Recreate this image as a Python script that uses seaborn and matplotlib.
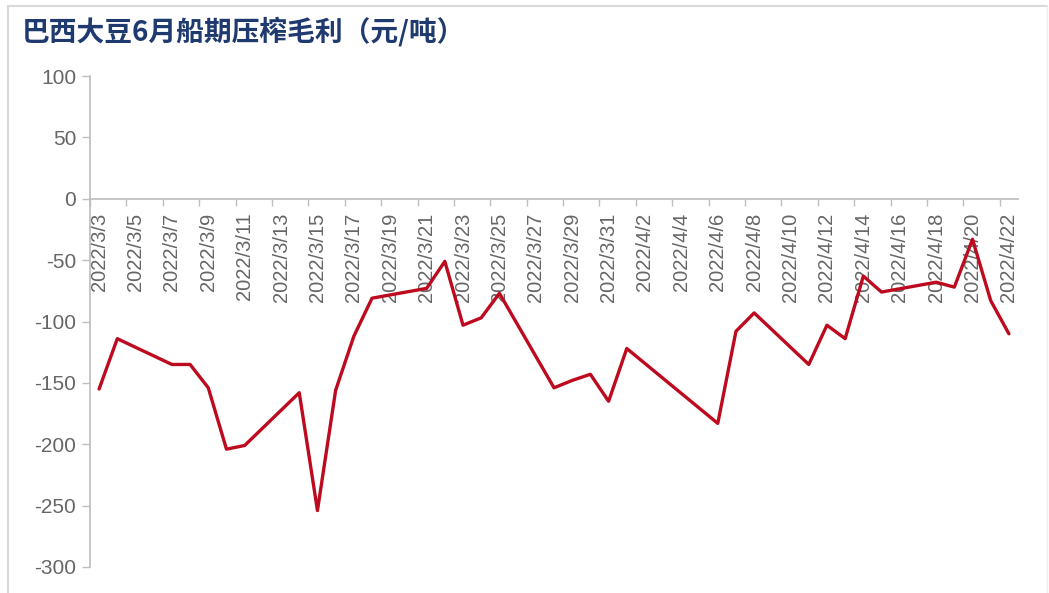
import matplotlib
matplotlib.use("Agg")
import matplotlib.pyplot as plt
import matplotlib.dates as mdates
from matplotlib.lines import Line2D
from matplotlib.ticker import FixedLocator, FixedFormatter, NullFormatter
import numpy as np
import pandas as pd
import seaborn as sns

# Trading days and crush margin (yuan/ton)
dates = [
    "2022-03-03", "2022-03-04", "2022-03-07", "2022-03-08", "2022-03-09",
    "2022-03-10", "2022-03-11", "2022-03-14", "2022-03-15", "2022-03-16",
    "2022-03-17", "2022-03-18", "2022-03-21", "2022-03-22", "2022-03-23",
    "2022-03-24", "2022-03-25", "2022-03-28", "2022-03-29", "2022-03-30",
    "2022-03-31", "2022-04-01", "2022-04-06", "2022-04-07", "2022-04-08",
    "2022-04-11", "2022-04-12", "2022-04-13", "2022-04-14", "2022-04-15",
    "2022-04-18", "2022-04-19", "2022-04-20", "2022-04-21", "2022-04-22",
]
margin = [
    -155, -114, -135, -135, -154,
    -204, -201, -158, -254, -156,
    -112, -81, -73, -51, -103,
    -97, -77, -154, -148, -143,
    -165, -122, -183, -108, -93,
    -135, -103, -114, -63, -76,
    -68, -72, -33, -83, -110,
]
y_ticks = [100, 50, 0, -50, -100, -150, -200, -250, -300]
title = "巴西大豆6月船期压榨毛利（元/吨）"

sns.set_theme(style="white")
plt.rcParams["font.family"] = ["Liberation Sans", "Noto Sans CJK SC", "DejaVu Sans"]

df = pd.DataFrame({"date": pd.to_datetime(dates), "margin": margin})

fig = plt.figure(figsize=(10.49, 5.93), dpi=100)
ax = fig.add_axes([90 / 1049, 1 - 567 / 593, (1018 - 90) / 1049, (567 - 76) / 593])

sns.lineplot(data=df, x="date", y="margin", ax=ax, color="#BE0A1E",
             linewidth=2.4)

# Daily axis: one slot per calendar day, labels every second day
start = pd.Timestamp("2022-03-03")
end = pd.Timestamp("2022-04-22")
x0 = mdates.date2num(start)
x1 = mdates.date2num(end)
ax.set_xlim(x0 - 0.5, x1 + 0.5)
ax.set_ylim(-300, 100)

label_days = pd.date_range(start, end, freq="2D")
ax.xaxis.set_major_locator(FixedLocator(np.arange(x0 - 0.5, x1 + 0.6, 2.0)))
ax.xaxis.set_major_formatter(NullFormatter())
ax.xaxis.set_minor_locator(FixedLocator(mdates.date2num(label_days)))
ax.xaxis.set_minor_formatter(
    FixedFormatter([f"{d.year}/{d.month}/{d.day}" for d in label_days]))
ax.tick_params(axis="x", which="major", length=5, width=1, color="#BFBFBF",
               direction="out", bottom=True)
ax.tick_params(axis="x", which="minor", length=0, pad=10, labelsize=14.5,
               labelcolor="#666666", bottom=True, labelrotation=90)

ax.set_yticks(y_ticks)
ax.set_yticklabels([str(v) for v in y_ticks])
ax.tick_params(axis="y", length=6, width=1, color="#BFBFBF", direction="out",
               left=True, labelsize=15, labelcolor="#666666", pad=4)

for side in ("top", "right"):
    ax.spines[side].set_visible(False)
ax.spines["left"].set_color("#BFBFBF")
ax.spines["bottom"].set_color("#BFBFBF")
ax.spines["bottom"].set_position(("data", 0))
ax.set_xlabel("")
ax.set_ylabel("")
ax.grid(False)

# Chart frame
frame_color = "#D9D9D9"
fig.add_artist(Line2D([8 / 1049, 1047 / 1049], [1 - 6 / 593, 1 - 6 / 593],
                      transform=fig.transFigure, color=frame_color, lw=1.5))
fig.add_artist(Line2D([8 / 1049, 8 / 1049], [0, 1 - 6 / 593],
                      transform=fig.transFigure, color=frame_color, lw=1.5))
fig.add_artist(Line2D([1047 / 1049, 1047 / 1049], [0, 1 - 6 / 593],
                      transform=fig.transFigure, color="#EEEEEE", lw=1))

fig.text(22 / 1049, 1 - 32 / 593, title, ha="left", va="center",
         fontsize=20, fontweight="bold", color="#1F3A6E",
         family=["Noto Sans CJK SC", "DejaVu Sans"])

fig.savefig("out.png", dpi=100, facecolor="white")
